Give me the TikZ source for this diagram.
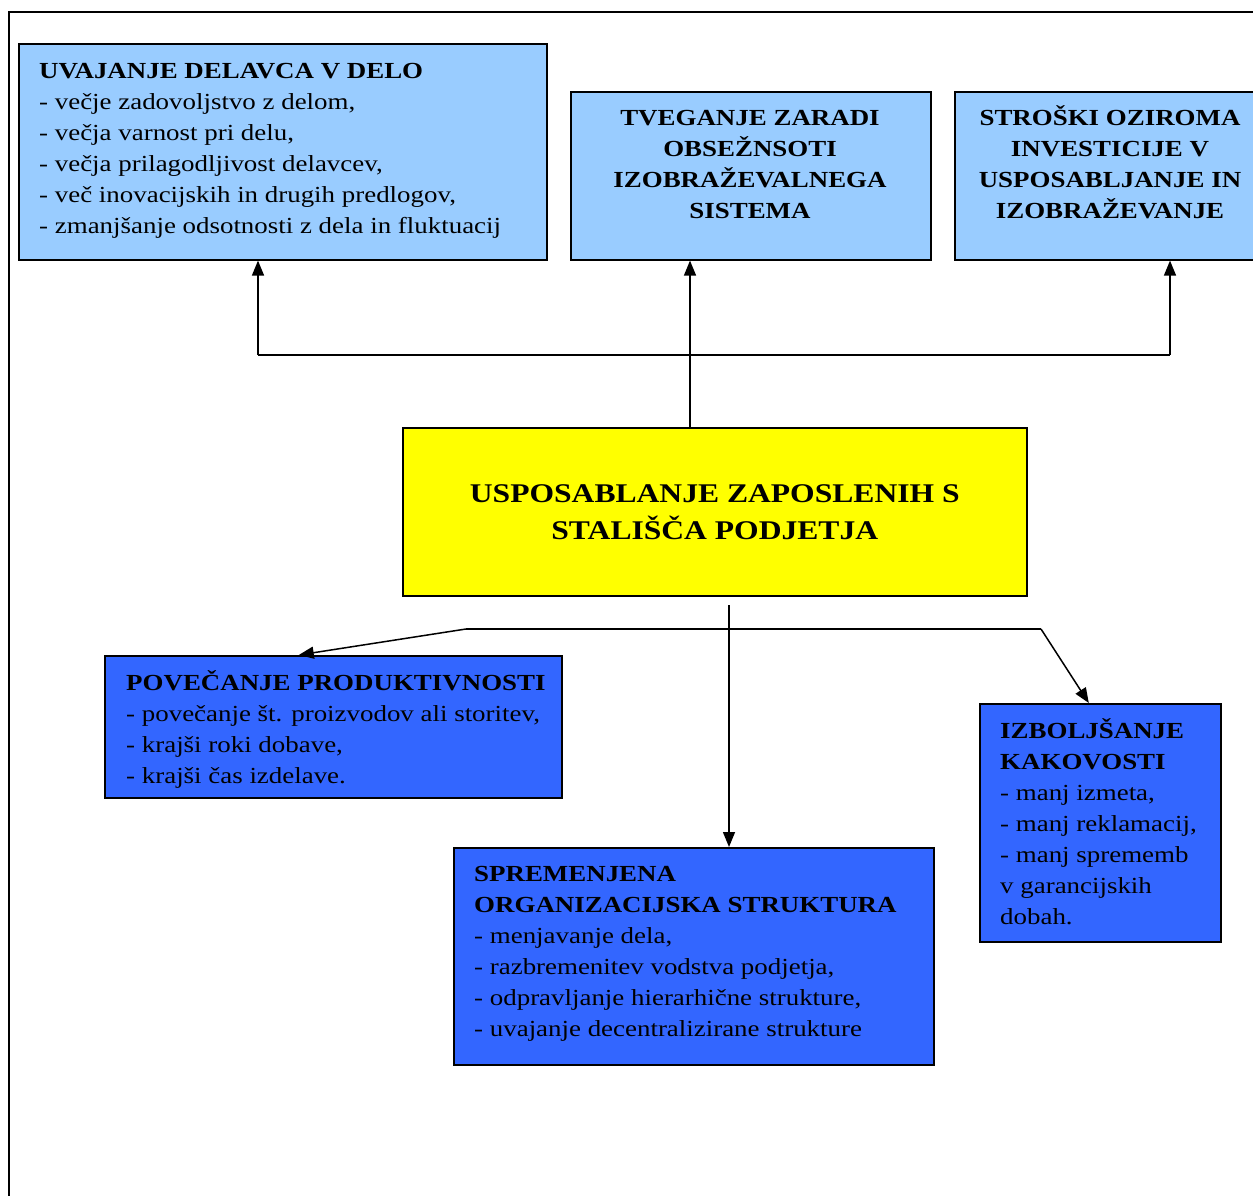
\documentclass[tikz,border=0pt]{standalone}
\usepackage{fontspec}
\setmainfont{Liberation Serif}[FakeStretch=1.17]
\usetikzlibrary{arrows.meta}
\definecolor{lightbox}{HTML}{99CCFF}
\definecolor{darkbox}{HTML}{3366FF}
\definecolor{corebox}{HTML}{FFFF00}
\newcommand{\firstln}{\rule{0pt}{22pt}}
\tikzset{
  boxbase/.style={draw=black, line width=1.6pt, inner sep=0pt, anchor=north west},
  lightbx/.style={boxbase, fill=lightbox},
  darkbx/.style={boxbase, fill=darkbox},
  corebx/.style={boxbase, fill=corebox, align=center,
    font=\fontsize{27}{37}\selectfont\bfseries},
  txt/.style={inner sep=0pt, font=\fontsize{23}{31}\selectfont},
  txtl/.style={txt, align=left, anchor=north west},
  txtc/.style={txt, align=center, anchor=north, font=\fontsize{23}{31}\selectfont\bfseries},
  conn/.style={line width=1.5pt},
  arr/.style={conn, -{Triangle[length=15pt,width=12pt]}}
}
\begin{document}
\begin{tikzpicture}[x=1pt,y=-1pt]
\useasboundingbox (0,0) rectangle (1253,1196);
% page frame
\draw[line width=2pt] (9,1210) -- (9,12) -- (1270,12);

% upper boxes
\node[lightbx, minimum width=528pt, minimum height=216pt] (a) at (18,43) {};
\node[txtl] (ta) at (39,56) {\firstln\textbf{UVAJANJE DELAVCA V DELO}\\
- večje zadovoljstvo z delom,\\
- večja varnost pri delu,\\
- večja prilagodljivost delavcev,\\
- več inovacijskih in drugih predlogov,\\
- zmanjšanje odsotnosti z dela in fluktuacij};

\node[lightbx, minimum width=360pt, minimum height=168pt] (b) at (570,91) {};
\node[txtc] (tb) at (750,103) {\firstln TVEGANJE ZARADI\\OBSEŽNSOTI\\IZOBRAŽEVALNEGA\\SISTEMA};

\node[lightbx, minimum width=310pt, minimum height=168pt] (c) at (954,91) {};
\node[txtc] (tc) at (1110,103) {\firstln STROŠKI OZIROMA\\INVESTICIJE V\\USPOSABLJANJE IN\\IZOBRAŽEVANJE};

% central box
\node[corebx, minimum width=624pt, minimum height=168pt] (y) at (402,427)
  {USPOSABLANJE ZAPOSLENIH S\\STALIŠČA PODJETJA};

% lower boxes
\node[darkbx, minimum width=457pt, minimum height=142pt] (d) at (104,655) {};
\node[txtl] (td) at (126,668) {\firstln\textbf{POVEČANJE PRODUKTIVNOSTI}\\
- povečanje št. proizvodov ali storitev,\\
- krajši roki dobave,\\
- krajši čas izdelave.};

\node[darkbx, minimum width=480pt, minimum height=217pt] (e) at (453,847) {};
\node[txtl] (te) at (474,859) {\firstln\textbf{SPREMENJENA}\\
\textbf{ORGANIZACIJSKA STRUKTURA}\\
- menjavanje dela,\\
- razbremenitev vodstva podjetja,\\
- odpravljanje hierarhične strukture,\\
- uvajanje decentralizirane strukture};

\node[darkbx, minimum width=241pt, minimum height=238pt] (f) at (979,703) {};
\node[txtl] (tf) at (1000,716) {\firstln\textbf{IZBOLJŠANJE}\\
\textbf{KAKOVOSTI}\\
- manj izmeta,\\
- manj reklamacij,\\
- manj sprememb\\
v garancijskih\\
dobah.};

% connectors to the upper boxes
\coordinate (ja) at (258,355);
\coordinate (jb) at (690,355);
\coordinate (jc) at (1170,355);
\draw[arr] (y.north -| jb) -- (jb |- b.south);
\draw[conn] (ja) -- (jc);
\draw[arr] (ja) -- (ja |- a.south);
\draw[arr] (jc) -- (jc |- c.south);

% connectors to the lower boxes
\coordinate (sy) at (729,605);
\coordinate (hl) at (466,629);
\coordinate (hr) at (1041,629);
\draw[arr] (sy) -- (e.north -| sy);
\draw[conn] (hl) -- (hr);
\draw[arr] (hl) -- ([xshift=-34.5pt]d.north);
\draw[arr] (hr) -- ([xshift=-11.5pt]f.north);
\end{tikzpicture}
\end{document}
